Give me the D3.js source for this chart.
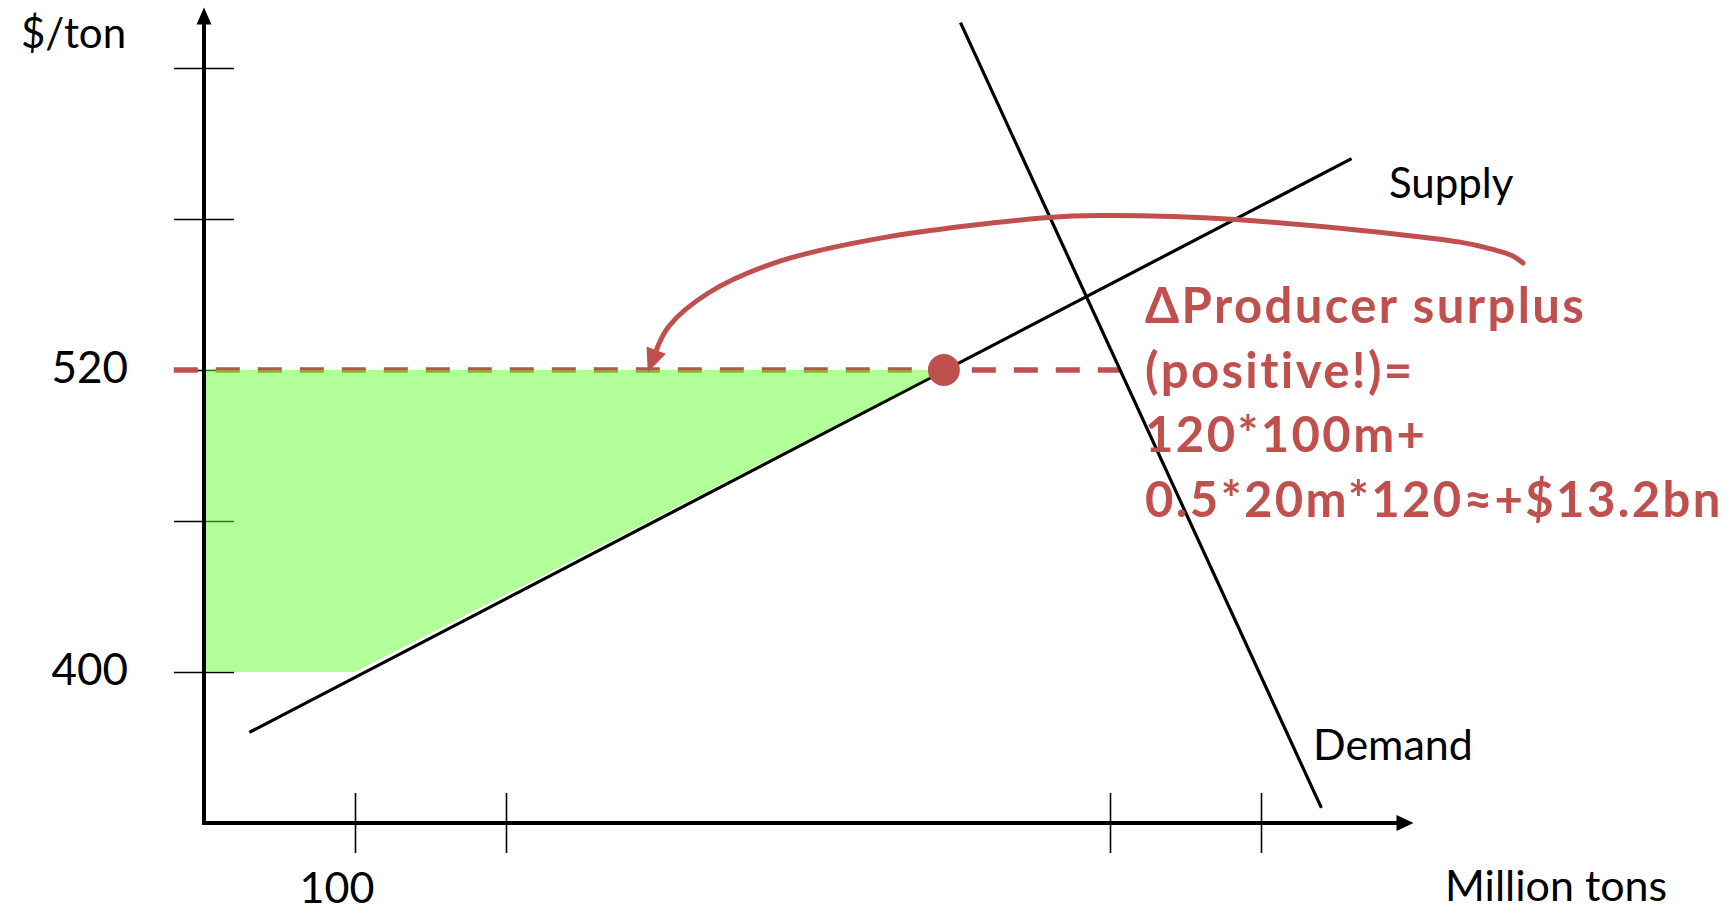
<!DOCTYPE html>
<html>
<head>
<meta charset="utf-8">
<script src="https://cdn.jsdelivr.net/npm/d3@7"></script>
<style>
  html, body { margin: 0; padding: 0; background: #fff; }
  svg { display: block; }
  text { font-family: Lato, "Open Sans", sans-serif; }
</style>
</head>
<body>
<script>
// ---- data (quantity in million tons, price in $/ton) ----
const priceTicks = [400, 460, 520, 580, 640];
const priceLabels = [400, 520];
const quantityTicks = [100, 200, 600, 700];
const quantityLabels = [100];

const supplyQ = [30, 760];
const supplyP = [376, 604];
const demandQ = [501, 740];
const demandP = [658, 346];

const oldPrice = 400;
const newPrice = 520;
const baseQuantity = 100;
const equilibriumQ = 490;

// annotation arrow path (quantity, price), from the text back to the surplus area
const arrowQ = [873.5, 866.2, 853.6, 831.8, 683, 593, 559, 448, 377.5, 334, 308, 299];
const arrowP = [562.5, 565.5, 567.9, 570.8, 579.8, 581.4, 580.6, 572.4, 562.5, 550.6, 537.5, 527.1];

const annotationLines = [
  "\u0394Producer surplus",
  "(positive!)=",
  "120*100m+",
  "0.5*20m*120\u2248+$13.2bn"
];

const RED = "#c0504d";
const GREEN = "rgba(102,255,51,0.5)";

const W = 1734, H = 914;
const svg = d3.select("body").append("svg").attr("width", W).attr("height", H);

const x = d3.scaleLinear().domain([0, 100]).range([204, 355]);
const y = d3.scaleLinear().domain([400, 520]).range([672, 370]);

const xMin = 0, xMax = 801;
const yMin = 340, yMax = 664;

const defs = svg.append("defs");
defs.append("marker")
  .attr("id", "redHead")
  .attr("markerUnits", "userSpaceOnUse")
  .attr("markerWidth", 24).attr("markerHeight", 24)
  .attr("viewBox", "0 -10 22 20")
  .attr("refX", 2).attr("refY", 0)
  .attr("orient", "auto")
  .append("path")
  .attr("d", "M0,-9.5L22,0L0,9.5Z")
  .attr("fill", RED);

// tick marks crossing both axes
const yTicks = svg.append("g")
  .attr("transform", `translate(${x(0) + 30},0)`)
  .call(d3.axisLeft(y).tickValues(priceTicks).tickSize(60).tickFormat(""));
yTicks.select(".domain").remove();
yTicks.selectAll("line").attr("stroke", "#000").attr("stroke-width", 1.6);

const xTicks = svg.append("g")
  .attr("transform", `translate(0,${y(yMin) + 30})`)
  .call(d3.axisTop(x).tickValues(quantityTicks).tickSize(60).tickFormat(""));
xTicks.select(".domain").remove();
xTicks.selectAll("line").attr("stroke", "#000").attr("stroke-width", 1.6);

// dashed new-price line up to demand curve
const demandAt = p => demandQ[0] + (p - demandP[0]) / (demandP[1] - demandP[0]) * (demandQ[1] - demandQ[0]);
svg.append("line")
  .attr("x1", x(-20)).attr("x2", x(demandAt(newPrice)))
  .attr("y1", y(newPrice)).attr("y2", y(newPrice))
  .attr("stroke", RED).attr("stroke-width", 5.5)
  .attr("stroke-dasharray", "24 18");

// supply and demand curves
const line = d3.line().x(d => x(d[0])).y(d => y(d[1]));
svg.append("path")
  .attr("d", line(d3.zip(supplyQ, supplyP)))
  .attr("fill", "none").attr("stroke", "#000").attr("stroke-width", 3.2);
svg.append("path")
  .attr("d", line(d3.zip(demandQ, demandP)))
  .attr("fill", "none").attr("stroke", "#000").attr("stroke-width", 3.2);

// producer surplus gain: rectangle + triangle
svg.append("path")
  .attr("d", line([[0, oldPrice], [baseQuantity, oldPrice], [baseQuantity, newPrice], [0, newPrice]]) + "Z")
  .attr("fill", GREEN);
svg.append("path")
  .attr("d", line([[baseQuantity, oldPrice], [equilibriumQ, newPrice], [baseQuantity, newPrice]]) + "Z")
  .attr("fill", GREEN);

// main axes with arrowheads
svg.append("line")
  .attr("x1", x(xMin)).attr("x2", x(xMin))
  .attr("y1", y(yMin)).attr("y2", y(yMax) + 14)
  .attr("stroke", "#000").attr("stroke-width", 4);
svg.append("path")
  .attr("d", `M${x(xMin)},${y(yMax)}L${x(xMin) - 7.5},${y(yMax) + 17}L${x(xMin) + 7.5},${y(yMax) + 17}Z`)
  .attr("fill", "#000");
svg.append("line")
  .attr("x1", x(xMin) - 2).attr("x2", x(xMax) - 14)
  .attr("y1", y(yMin)).attr("y2", y(yMin))
  .attr("stroke", "#000").attr("stroke-width", 4);
svg.append("path")
  .attr("d", `M${x(xMax)},${y(yMin)}L${x(xMax) - 17},${y(yMin) - 8}L${x(xMax) - 17},${y(yMin) + 8}Z`)
  .attr("fill", "#000");

// equilibrium point
svg.append("circle")
  .attr("cx", x(equilibriumQ)).attr("cy", y(newPrice)).attr("r", 16)
  .attr("fill", RED);

// curved annotation arrow
const arrowLine = d3.line().x(d => x(d[0])).y(d => y(d[1])).curve(d3.curveCatmullRom.alpha(0.5));
svg.append("path")
  .attr("d", arrowLine(d3.zip(arrowQ, arrowP)))
  .attr("fill", "none").attr("stroke", RED).attr("stroke-width", 5)
  .attr("stroke-linecap", "round")
  .attr("marker-end", "url(#redHead)");

// axis labels
svg.append("text").attr("x", 21).attr("y", 48)
  .attr("font-size", 42).text("$/ton");
svg.append("text").attr("x", 1445).attr("y", 901)
  .attr("font-size", 43).text("Million tons");

svg.selectAll(".plabel").data(priceLabels).enter().append("text")
  .attr("class", "plabel")
  .attr("x", 128).attr("y", d => y(d) + 13)
  .attr("text-anchor", "end").attr("font-size", 44)
  .text(d => d);
svg.selectAll(".qlabel").data(quantityLabels).enter().append("text")
  .attr("class", "qlabel")
  .attr("x", d => x(d) - 18).attr("y", 903)
  .attr("text-anchor", "middle").attr("font-size", 43)
  .text(d => d);

// curve labels
svg.append("text").attr("x", 1389).attr("y", 198)
  .attr("font-size", 42).text("Supply");
svg.append("text").attr("x", 1313).attr("y", 760)
  .attr("font-size", 43).text("Demand");

// annotation text
svg.append("g").selectAll("text").data(annotationLines).enter().append("text")
  .attr("x", 1145).attr("y", (d, i) => 323 + i * 64.5)
  .attr("font-size", 49).attr("font-weight", "bold").attr("fill", RED)
  .attr("letter-spacing", 2.4)
  .text(d => d);
</script>
</body>
</html>
